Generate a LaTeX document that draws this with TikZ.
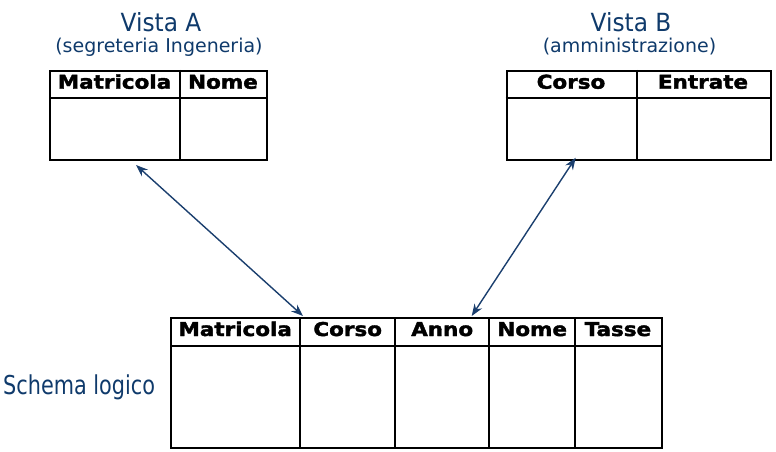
\documentclass[tikz,border=0pt]{standalone}
\usepackage{fontspec}
\setmainfont{DejaVu Sans}
\newfontfamily\hdrfont[FakeStretch=1.13,FakeBold=2]{DejaVu Sans Bold}
\newfontfamily\narrowfont[FakeStretch=0.8]{DejaVu Sans}
\newfontfamily\titlefont[FakeStretch=0.93]{DejaVu Sans}
\usetikzlibrary{arrows.meta}
\definecolor{titleblue}{HTML}{0F3A6B}
\definecolor{arrowblue}{HTML}{1B3F6E}
\tikzset{
  tbl/.style={draw=black, line width=2pt, inner sep=0pt, anchor=north west},
  tline/.style={draw=black, line width=2pt},
  hdr/.style={font=\hdrfont\fontsize{19}{21}\selectfont, anchor=base, inner sep=0pt, text=black},
  ttl/.style={font=\titlefont\fontsize{25}{28}\selectfont, anchor=base, inner sep=0pt, text=titleblue},
  sub/.style={font=\fontsize{19}{22}\selectfont, anchor=base, inner sep=0pt, text=titleblue},
  link/.style={draw=arrowblue, line width=1.4pt, {Stealth[length=12pt,width=9pt]}-{Stealth[length=12pt,width=9pt]}}
}
\begin{document}
\begin{tikzpicture}[x=1pt,y=-1pt]
\useasboundingbox (0,0) rectangle (776,452);
% Titles
\node[ttl] (tA) at (161,32) {Vista A};
\node[sub] (sA) at (159,52.5) {(segreteria Ingeneria)};
\node[ttl] (tB) at (631,32) {Vista B};
\node[sub] (sB) at (629.5,52.5) {(amministrazione)};
\node[font=\narrowfont\fontsize{26}{30}\selectfont, anchor=base west, inner sep=0pt, text=titleblue] (sl) at (3,394) {Schema logico};
% Table A
\node[tbl, minimum width=217pt, minimum height=89pt] (TA) at (49,70) {};
\draw[tline] (49,97.5) -- (266,97.5);
\draw[tline] (180,70) -- (180,159);
\node[hdr] (hA1) at (114.5,88.7) {Matricola};
\node[hdr] (hA2) at (223,88.7) {Nome};
% Table B
\node[tbl, minimum width=264pt, minimum height=89pt] (TB) at (505.5,70) {};
\draw[tline] (505.5,97.5) -- (769.5,97.5);
\draw[tline] (636.7,70) -- (636.7,159);
\node[hdr] (hB1) at (571,88.7) {Corso};
\node[hdr] (hB2) at (703,88.7) {Entrate};
% Schema logico table
\node[tbl, minimum width=490.7pt, minimum height=129.5pt] (TS) at (170,317.3) {};
\draw[tline] (170,346) -- (660.7,346);
\foreach \xx in {300.3,395,489.3,575} \draw[tline] (\xx,317.3) -- (\xx,446.8);
\node[hdr] (hS1) at (235.2,336) {Matricola};
\node[hdr] (hS2) at (347.7,336) {Corso};
\node[hdr] (hS3) at (442.2,336) {Anno};
\node[hdr] (hS4) at (532.2,336) {Nome};
\node[hdr] (hS5) at (617.9,336) {Tasse};
% Arrows
\coordinate (a1) at (136,165);
\coordinate (b1) at (303,316);
\coordinate (a2) at (575.7,157.7);
\coordinate (b2) at (471.7,316);
\draw[link] (a1) -- (b1);
\draw[link] (a2) -- (b2);
\end{tikzpicture}
\end{document}
